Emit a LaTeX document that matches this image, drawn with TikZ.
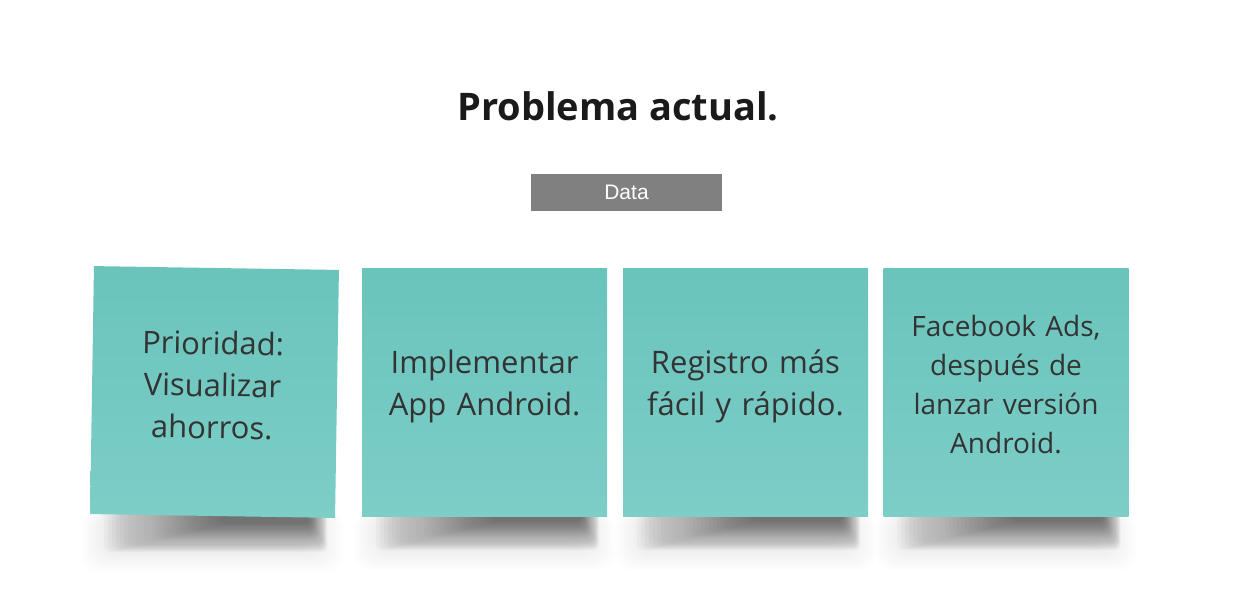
\documentclass[tikz,border=0pt]{standalone}
\usepackage{fontspec}
\setmainfont{Open Sans}
\newfontfamily\arialfont{Liberation Sans}
\usetikzlibrary{calc,backgrounds}
\definecolor{notetop}{HTML}{6AC4BC}
\definecolor{notebottom}{HTML}{7CCEC7}
\definecolor{notetext}{HTML}{333333}
\definecolor{titletext}{HTML}{1A1A1A}
\definecolor{databox}{HTML}{808080}
%sombra debajo de cada nota
\newcommand{\noteshadow}[1]{%
  \foreach \k in {0,...,29}{
    \fill[black, opacity=0.022, rounded corners=6pt]
      ($(#1.south west)+(14+4*\k,-4)$) rectangle ($(#1.south east)+(-8-0.6*\k,{34-1*\k})$);
  }
  \foreach \k in {0,...,11}{
    \fill[black, opacity=0.006, rounded corners=18pt]
      ($(#1.south west)+(-8+3*\k,-4)$) rectangle ($(#1.south east)+(8-3*\k,{54-2.5*\k})$);
  }}
\begin{document}
\begin{tikzpicture}[x=1pt, y=-1pt,
    notebox/.style={top color=notetop, bottom color=notebottom, inner sep=0pt,
      minimum width=245pt, minimum height=248pt},
    notelabel/.style={text width=236pt, align=center, inner sep=0pt,
      text=notetext, font=\fontsize{31}{42}\selectfont},
    databar/.style={fill=databox, minimum width=191pt, minimum height=37pt, inner sep=0pt,
      text=white, font=\arialfont\fontsize{21}{22}\selectfont}]
  \useasboundingbox (0,0) rectangle (1236,608); %Tamanho da figura

    %Titulo
  \node[anchor=base, text=titletext, font=\bfseries\fontsize{38}{40}\selectfont] (title) at (618,120) {Problema actual.};
  \node[databar] (data) at (626.5,192.5) {Data};

    %Notas
  \node[notebox, rotate=-0.9] (note1) at (214.5,392) {};
  \node[notebox] (note2) at (484.5,392) {};
  \node[notebox] (note3) at (745.5,392) {};
  \node[notebox] (note4) at (1006,392) {};

    %Textos das notas
  \node[notelabel, rotate=-0.9] (text1) at ($(note1.center)+(-2,-7)$) {Prioridad:\\ Visualizar\\ ahorros.};
  \node[notelabel] (text2) at ($(note2.center)+(0,-6)$) {Implementar\\ App Android.};
  \node[notelabel] (text3) at ($(note3.center)+(0,-6)$) {Registro más\\ fácil y rápido.};
  \node[notelabel, font=\fontsize{28}{39}\selectfont] (text4) at ($(note4.center)+(0,-7)$) {Facebook Ads,\\ después de\\ lanzar versión\\ Android.};

    %Sombras
  \begin{pgfonlayer}{background}
    \noteshadow{note1}
    \noteshadow{note2}
    \noteshadow{note3}
    \noteshadow{note4}
  \end{pgfonlayer}
\end{tikzpicture}
\end{document}
